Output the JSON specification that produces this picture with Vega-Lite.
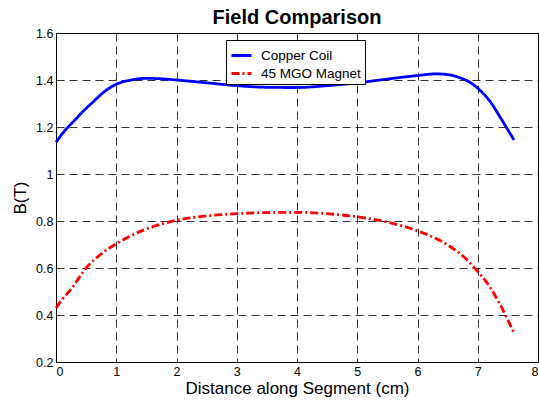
{
  "$schema": "https://vega.github.io/schema/vega-lite/v6.json",
  "autosize": "none",
  "width": 482,
  "height": 329,
  "padding": {"left": 56, "top": 33, "right": 1, "bottom": 41},
  "background": "white",
  "title": {"text": "Field Comparison", "font": "Liberation Sans", "fontSize": 20, "fontWeight": "bold", "color": "black", "anchor": "middle", "frame": "group", "offset": -1},
  "config": {
    "view": {"stroke": "black", "strokeWidth": 1},
    "axis": {
      "labelFont": "Liberation Sans", "labelFontSize": 12.5, "labelColor": "black",
      "titleFont": "Liberation Sans", "titleFontSize": 17, "titleFontWeight": "normal", "titleColor": "black",
      "domainColor": "black", "domainWidth": 1,
      "grid": true, "gridColor": "black", "gridDash": [8, 5], "gridWidth": 1, "gridOpacity": 0.8,
      "ticks": false, "labelPadding": 3
    },
    "legend": {
      "orient": "none", "legendX": 170, "legendY": 7,
      "fillColor": "white", "strokeColor": "black", "strokeWidth": 1, "padding": 4,
      "labelFont": "Liberation Sans", "labelFontSize": 13.5, "labelColor": "black",
      "symbolType": "stroke", "symbolSize": 400, "symbolStrokeWidth": 3,
      "rowPadding": -6, "labelOffset": 8, "title": null
    }
  },
  "data": {"values": [
    {"x": 0, "y": 1.135, "s": "Copper Coil"},
    {"x": 0.1, "y": 1.17, "s": "Copper Coil"},
    {"x": 0.2, "y": 1.2, "s": "Copper Coil"},
    {"x": 0.3, "y": 1.226, "s": "Copper Coil"},
    {"x": 0.45, "y": 1.267, "s": "Copper Coil"},
    {"x": 0.6, "y": 1.303, "s": "Copper Coil"},
    {"x": 0.8, "y": 1.35, "s": "Copper Coil"},
    {"x": 1.0, "y": 1.382, "s": "Copper Coil"},
    {"x": 1.25, "y": 1.4, "s": "Copper Coil"},
    {"x": 1.5, "y": 1.407, "s": "Copper Coil"},
    {"x": 1.75, "y": 1.405, "s": "Copper Coil"},
    {"x": 2.0, "y": 1.4, "s": "Copper Coil"},
    {"x": 2.5, "y": 1.388, "s": "Copper Coil"},
    {"x": 3.0, "y": 1.376, "s": "Copper Coil"},
    {"x": 3.5, "y": 1.369, "s": "Copper Coil"},
    {"x": 4.0, "y": 1.368, "s": "Copper Coil"},
    {"x": 4.5, "y": 1.376, "s": "Copper Coil"},
    {"x": 5.0, "y": 1.388, "s": "Copper Coil"},
    {"x": 5.5, "y": 1.404, "s": "Copper Coil"},
    {"x": 6.0, "y": 1.419, "s": "Copper Coil"},
    {"x": 6.3, "y": 1.426, "s": "Copper Coil"},
    {"x": 6.5, "y": 1.423, "s": "Copper Coil"},
    {"x": 6.7, "y": 1.41, "s": "Copper Coil"},
    {"x": 6.9, "y": 1.385, "s": "Copper Coil"},
    {"x": 7.0, "y": 1.365, "s": "Copper Coil"},
    {"x": 7.2, "y": 1.31, "s": "Copper Coil"},
    {"x": 7.4, "y": 1.23, "s": "Copper Coil"},
    {"x": 7.6, "y": 1.145, "s": "Copper Coil"},
    {"x": 0, "y": 0.43, "s": "45 MGO Magnet"},
    {"x": 0.1, "y": 0.465, "s": "45 MGO Magnet"},
    {"x": 0.25, "y": 0.51, "s": "45 MGO Magnet"},
    {"x": 0.5, "y": 0.6, "s": "45 MGO Magnet"},
    {"x": 0.75, "y": 0.66, "s": "45 MGO Magnet"},
    {"x": 1.0, "y": 0.703, "s": "45 MGO Magnet"},
    {"x": 1.25, "y": 0.738, "s": "45 MGO Magnet"},
    {"x": 1.5, "y": 0.766, "s": "45 MGO Magnet"},
    {"x": 1.75, "y": 0.787, "s": "45 MGO Magnet"},
    {"x": 2.0, "y": 0.803, "s": "45 MGO Magnet"},
    {"x": 2.5, "y": 0.822, "s": "45 MGO Magnet"},
    {"x": 3.0, "y": 0.831, "s": "45 MGO Magnet"},
    {"x": 3.5, "y": 0.836, "s": "45 MGO Magnet"},
    {"x": 4.0, "y": 0.837, "s": "45 MGO Magnet"},
    {"x": 4.5, "y": 0.831, "s": "45 MGO Magnet"},
    {"x": 5.0, "y": 0.818, "s": "45 MGO Magnet"},
    {"x": 5.5, "y": 0.795, "s": "45 MGO Magnet"},
    {"x": 6.0, "y": 0.758, "s": "45 MGO Magnet"},
    {"x": 6.5, "y": 0.698, "s": "45 MGO Magnet"},
    {"x": 6.8, "y": 0.64, "s": "45 MGO Magnet"},
    {"x": 7.0, "y": 0.585, "s": "45 MGO Magnet"},
    {"x": 7.2, "y": 0.52, "s": "45 MGO Magnet"},
    {"x": 7.4, "y": 0.43, "s": "45 MGO Magnet"},
    {"x": 7.6, "y": 0.325, "s": "45 MGO Magnet"}
  ]},
  "mark": {"type": "line", "interpolate": "monotone", "strokeWidth": 2.8},
  "encoding": {
    "x": {"field": "x", "type": "quantitative", "title": "Distance along Segment (cm)",
      "scale": {"domain": [0, 8], "nice": false},
      "axis": {"values": [0, 1, 2, 3, 4, 5, 6, 7, 8], "format": "d", "titlePadding": 3}},
    "y": {"field": "y", "type": "quantitative", "title": "B(T)",
      "scale": {"domain": [0.2, 1.6], "nice": false, "zero": false},
      "axis": {"values": [0.2, 0.4, 0.6, 0.8, 1.0, 1.2, 1.4, 1.6], "format": "~g", "titlePadding": 6}},
    "color": {"field": "s", "type": "nominal",
      "scale": {"domain": ["Copper Coil", "45 MGO Magnet"], "range": ["#0000ff", "#ff0000"]}},
    "strokeDash": {"field": "s", "type": "nominal",
      "scale": {"domain": ["Copper Coil", "45 MGO Magnet"], "range": [[1, 0], [8, 3, 2, 3]]}}
  }
}
